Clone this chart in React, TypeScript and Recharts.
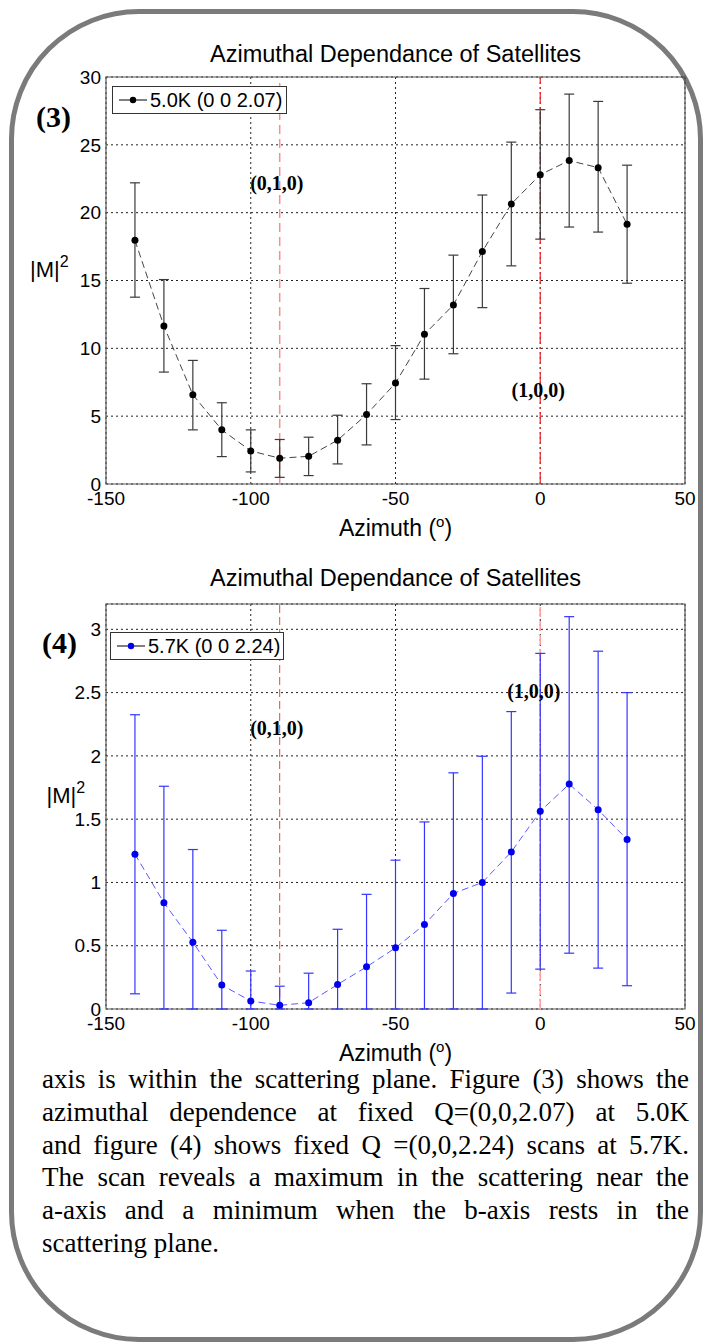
import React from 'react';
import {
  ComposedChart,
  Line,
  XAxis,
  YAxis,
  CartesianGrid,
  ErrorBar,
  ReferenceLine,
  ReferenceArea,
  ReferenceDot,
  Legend,
} from 'recharts';

// ---- data ----
const azimuth = [-140, -130, -120, -110, -100, -90, -80, -70, -60, -50, -40, -30, -20, -10, 0, 10, 20, 30];

// Figure (3): 5.0K, Q = (0 0 2.07)
const m2At50K = [17.96, 11.65, 6.58, 3.99, 2.44, 1.9, 2.04, 3.23, 5.12, 7.44, 11.03, 13.2, 17.14, 20.64, 22.8, 23.84, 23.32, 19.14];
const m2At50KLow = [13.77, 8.25, 3.99, 2.02, 0.89, 0.49, 0.62, 1.48, 2.88, 4.75, 7.73, 9.6, 13.0, 16.08, 18.05, 18.94, 18.57, 14.8];
const m2At50KHigh = [22.2, 15.07, 9.11, 5.99, 3.99, 3.28, 3.45, 5.07, 7.39, 10.2, 14.41, 16.87, 21.3, 25.2, 27.59, 28.74, 28.2, 23.5];

// Figure (4): 5.7K, Q = (0 0 2.24); bars that run out of the plot are seen ending at 0
const m2At57K = [1.223, 0.84, 0.528, 0.189, 0.063, 0.029, 0.05, 0.194, 0.333, 0.483, 0.667, 0.913, 1.0, 1.241, 1.562, 1.777, 1.575, 1.339];
const m2At57KLow = [0.12, 0, 0, 0, 0, 0, 0, 0, 0, 0, 0, 0, 0, 0.126, 0.315, 0.441, 0.323, 0.184];
const m2At57KHigh = [2.325, 1.76, 1.26, 0.622, 0.3, 0.18, 0.283, 0.63, 0.906, 1.176, 1.478, 1.866, 1.997, 2.35, 2.81, 3.1, 2.827, 2.5];

const xTicks = [-150, -100, -50, 0, 50];
const yTicks1 = [0, 5, 10, 15, 20, 25, 30];
const yTicks2 = [0, 0.5, 1, 1.5, 2, 2.5, 3];

const titleText = 'Azimuthal Dependance of Satellites';
const legend1 = '5.0K (0 0 2.07)';
const legend2 = '5.7K (0 0 2.24)';

const paragraphLines = [
  'axis is within the scattering plane. Figure (3) shows the',
  'azimuthal dependence at fixed Q=(0,0,2.07) at 5.0K',
  'and figure (4) shows fixed Q =(0,0,2.24) scans at 5.7K.',
  'The scan reveals a maximum in the scattering near the',
  'a-axis and a minimum when the b-axis rests in the',
  'scattering plane.',
];

const data1 = azimuth.map((x, i) => ({
  x,
  y: m2At50K[i],
  err: [m2At50K[i] - m2At50KLow[i], m2At50KHigh[i] - m2At50K[i]],
}));
const data2 = azimuth.map((x, i) => ({
  x,
  y: m2At57K[i],
  err: [m2At57K[i] - m2At57KLow[i], m2At57KHigh[i] - m2At57K[i]],
}));

const SANS = '"Liberation Sans", Arial, Helvetica, sans-serif';
const SERIF = '"Liberation Serif", "Times New Roman", serif';

const YLabel = (props: any) => {
  const { viewBox, x0 } = props;
  const cy = viewBox.y + viewBox.height / 2 - 4;
  return (
    <text x={x0} y={cy} fontFamily={SANS} fontSize={22} fill="#000">
      |M|
      <tspan fontSize={16} dy={-10}>2</tspan>
    </text>
  );
};

const XLabel = (props: any) => {
  const { viewBox } = props;
  const cx = viewBox.x + viewBox.width / 2;
  const y = viewBox.y + 52;
  return (
    <text x={cx} y={y} textAnchor="middle" fontFamily={SANS} fontSize={23} fill="#000">
      Azimuth (
      <tspan fontSize={15} dy={-9}>o</tspan>
      <tspan dy={9}>)</tspan>
    </text>
  );
};

const LegendBox = ({ label, dot, width }: { label: string; dot: string; width: number }) => (
  <div
    style={{
      border: '1px solid #333',
      background: '#fff',
      width,
      height: 28,
      boxSizing: 'border-box',
      display: 'flex',
      alignItems: 'center',
      fontFamily: SANS,
      fontSize: 20,
      color: '#000',
      whiteSpace: 'nowrap',
    }}
  >
    <svg width={37} height={10} style={{ flex: 'none' }}>
      <line x1={6} y1={5} x2={34} y2={5} stroke="#000" strokeWidth={1} />
      <circle cx={20} cy={5} r={3.2} fill={dot} />
    </svg>
    <span>{label}</span>
  </div>
);

const tickStyle = { fill: '#000', fontSize: 19, fontFamily: SANS };

type PanelProps = {
  data: any[];
  yMax: number;
  yTicks: number[];
  bottomMargin: number;
  dotColor: string;
  lineColor: string;
  errColor: string;
  ref90: { stroke: string; dash: string; w: number };
  ref0: { stroke: string; dash: string; w: number };
  ann010: number;
  ann100: { x: number; y: number };
  yLabelX: number;
  legendLabel: string;
  legendTop: number;
  legendLeft: number;
  legendWidth: number;
};

const Panel = (p: PanelProps) => (
  <ComposedChart
    width={712}
    height={545}
    data={p.data}
    margin={{ top: 77, right: 27, bottom: p.bottomMargin, left: 46 }}
  >
    <CartesianGrid stroke="#222" strokeDasharray="2 3" strokeWidth={1} />
    <XAxis
      type="number"
      dataKey="x"
      domain={[-150, 50]}
      ticks={xTicks}
      interval={0}
      height={30}
      tickLine={false}
      axisLine={false}
      tickSize={0}
      tickMargin={8}
      tick={tickStyle}
      label={<XLabel />}
    />
    <YAxis
      type="number"
      domain={[0, p.yMax]}
      ticks={p.yTicks}
      interval={0}
      width={60}
      allowDataOverflow
      tickLine={false}
      axisLine={false}
      tickSize={0}
      tickMargin={5}
      tick={tickStyle}
      label={<YLabel x0={p.yLabelX} />}
    />
    <ReferenceArea x1={-150} x2={50} y1={0} y2={p.yMax} fill="none" fillOpacity={0} stroke="#555" strokeWidth={1.2} />
    <ReferenceLine x={-90} stroke={p.ref90.stroke} strokeDasharray={p.ref90.dash} strokeWidth={p.ref90.w} />
    <ReferenceLine x={0} stroke={p.ref0.stroke} strokeDasharray={p.ref0.dash} strokeWidth={p.ref0.w} />
    <ReferenceDot
      x={-91}
      y={p.ann010}
      r={0}
      fill="none"
      stroke="none"
      label={{ value: '(0,1,0)', position: 'center', fill: '#000', fontSize: 20, fontWeight: 'bold', fontFamily: SERIF }}
    />
    <ReferenceDot
      x={p.ann100.x}
      y={p.ann100.y}
      r={0}
      fill="none"
      stroke="none"
      label={{ value: '(1,0,0)', position: 'center', fill: '#000', fontSize: 20, fontWeight: 'bold', fontFamily: SERIF }}
    />
    <Legend
      layout="horizontal"
      verticalAlign="middle"
      align="center"
      wrapperStyle={{ left: p.legendLeft, top: p.legendTop, width: 'auto', height: 'auto' }}
      content={() => <LegendBox label={p.legendLabel} dot={p.dotColor} width={p.legendWidth} />}
    />
    <Line
      type="linear"
      dataKey="y"
      stroke={p.lineColor}
      strokeWidth={1}
      strokeDasharray="7 4"
      dot={{ r: 3.5, fill: p.dotColor, stroke: p.dotColor, strokeWidth: 0 }}
      activeDot={false}
      isAnimationActive={false}
      legendType="none"
    >
      <ErrorBar dataKey="err" width={5} stroke={p.errColor} strokeWidth={1.2} direction="y" />
    </Line>
  </ComposedChart>
);

export default function App() {
  return (
    <div style={{ position: 'relative', width: 712, height: 1342, marginLeft: -8, marginTop: -8, background: '#fff', overflow: 'hidden' }}>
      {/* rounded frame */}
      <div
        style={{
          position: 'absolute',
          left: 9,
          top: 9,
          width: 694,
          height: 1333,
          border: '5px solid #7b7b7b',
          borderRadius: 130,
          boxSizing: 'border-box',
        }}
      />

      {/* Figure (3) */}
      <div style={{ position: 'absolute', left: 0, top: 0 }}>
        <Panel
          data={data1}
          yMax={30}
          yTicks={yTicks1}
          bottomMargin={31}
          dotColor="#000"
          lineColor="#444"
          errColor="#3a3a3a"
          ref90={{ stroke: '#ff8c8c', dash: '9 5', w: 1.5 }}
          ref0={{ stroke: '#e8262a', dash: '12 3 2 3', w: 1.2 }}
          ann010={22.2}
          ann100={{ x: -0.7, y: 6.93 }}
          yLabelX={30}
          legendLabel={legend1}
          legendTop={86}
          legendLeft={112}
          legendWidth={175}
        />
      </div>
      <div style={{ position: 'absolute', left: 106, width: 579, top: 42.5, textAlign: 'center', fontFamily: SANS, fontSize: 23.5, lineHeight: '23px', color: '#000' }}>
        {titleText}
      </div>
      <div style={{ position: 'absolute', left: 36, top: 101.5, fontFamily: SERIF, fontSize: 30, lineHeight: '30px', fontWeight: 'bold', color: '#000' }}>
        (3)
      </div>

      {/* Figure (4) */}
      <div style={{ position: 'absolute', left: 0, top: 527 }}>
        <Panel
          data={data2}
          yMax={3.2}
          yTicks={yTicks2}
          bottomMargin={33}
          dotColor="#0000ee"
          lineColor="#5a5aff"
          errColor="#3535ff"
          ref90={{ stroke: '#ff3b3b', dash: '8 4', w: 1 }}
          ref0={{ stroke: '#ff9f9f', dash: '10 4', w: 1.6 }}
          ann010={2.22}
          ann100={{ x: -2.2, y: 2.51 }}
          yLabelX={46.5}
          legendLabel={legend2}
          legendTop={105}
          legendLeft={110}
          legendWidth={174}
        />
      </div>
      <div style={{ position: 'absolute', left: 106, width: 579, top: 567, textAlign: 'center', fontFamily: SANS, fontSize: 23.5, lineHeight: '23px', color: '#000' }}>
        {titleText}
      </div>
      <div style={{ position: 'absolute', left: 42, top: 628, fontFamily: SERIF, fontSize: 30, lineHeight: '30px', fontWeight: 'bold', color: '#000' }}>
        (4)
      </div>

      {/* paragraph */}
      <div style={{ position: 'absolute', left: 42, top: 1063, width: 647, fontFamily: SERIF, fontSize: 27, lineHeight: '32.8px', color: '#000' }}>
        {paragraphLines.map((line, i) => (
          <div
            key={i}
            style={{
              whiteSpace: 'nowrap',
              textAlign: 'justify',
              textAlignLast: i === paragraphLines.length - 1 ? 'left' : 'justify',
            }}
          >
            {line}
          </div>
        ))}
      </div>
    </div>
  );
}
